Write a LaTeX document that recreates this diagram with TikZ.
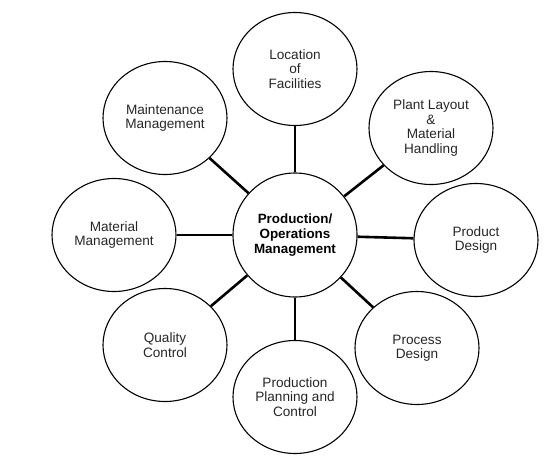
\documentclass[tikz,border=0pt]{standalone}
\usepackage{fontspec}
\setmainfont{Liberation Sans}
\usetikzlibrary{shapes.geometric}
\begin{document}
\begin{tikzpicture}[
    x=1pt, y=-1pt,
    font=\fontsize{13.6}{14.5}\selectfont,
    hubnode/.style={
        draw=black,
        circle,
        line width=1.1pt,
        minimum size=124pt,
        align=center,
        inner sep=0pt,
        font=\fontsize{13.4}{15}\selectfont\bfseries
    },
    areanode/.style={
        draw=black,
        ellipse,
        line width=1.1pt,
        minimum width=124pt,
        minimum height=113pt,
        align=center,
        inner sep=0pt,
        text=black!85
    },
    spoke/.style={line width=2.6pt, draw=black}
]
\useasboundingbox (0,0) rectangle (558,464);
\node[hubnode] (pom) at (295,235) {Production/\\Operations\\Management};
\node[areanode] (loc) at (295,69) {Location\\of\\Facilities};
\node[areanode] (plant) at (431,128) {Plant Layout\\\&\\Material\\Handling};
\node[areanode] (prod) at (476,240) {Product\\Design};
\node[areanode] (proc) at (417,348) {Process\\Design};
\node[areanode] (ppc) at (295,397) {Production\\Planning and\\Control};
\node[areanode] (qc) at (165,345) {Quality\\Control};
\node[areanode] (mat) at (114,235) {Material\\Management};
\node[areanode] (maint) at (165,118) {Maintenance\\Management};
\foreach \n in {loc,plant,prod,proc,ppc,qc,mat,maint}
    \draw[spoke] (pom) -- (\n);
\end{tikzpicture}
\end{document}
